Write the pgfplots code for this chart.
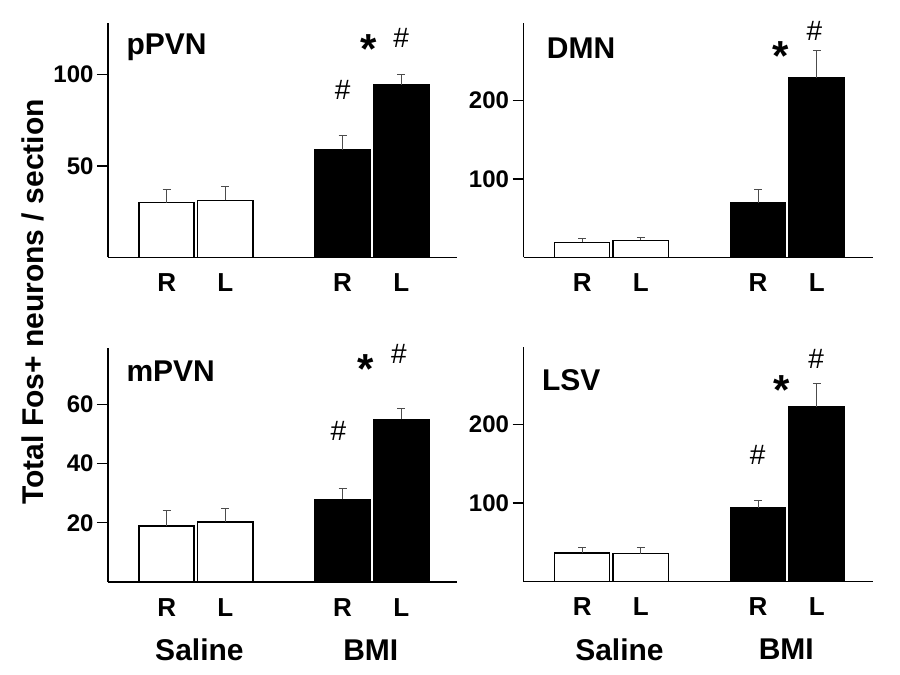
\documentclass[border=0pt]{standalone}
\usepackage{fontspec}
\setmainfont{Liberation Sans}
\usepackage{pgfplots}
\pgfplotsset{compat=1.18}

\pgfplotsset{
  panel/.style={
    scale only axis, width=349pt, height=234pt,
    anchor=south west,
    xmin=0, xmax=5.95, ymin=0,
    axis x line=bottom, axis y line=left,
    axis line style={-, line width=1.6pt},
    every outer x axis line/.append style={-},
    every outer y axis line/.append style={-},
    xtick={1,2,4,5}, xticklabels={R,L,R,L},
    x tick style={draw=none},
    y tick style={line width=1.3pt, black},
    tick align=outside, major tick length=11pt,
    yticklabel style={font=\fontsize{24}{24}\selectfont\bfseries},
    xticklabel style={font=\fontsize{26}{26}\selectfont\bfseries, yshift=-2pt},
    /pgf/number format/assume math mode=true,
    clip=false,
  },
  saline/.style={ybar, bar width=0.94, bar shift=0pt, fill=white, draw=black, line width=1.5pt,
    error bars/.cd, y dir=plus, y explicit,
    error bar style={line width=1pt, black!70},
    error mark options={rotate=90, mark size=4pt, line width=1pt, black!70}},
  bmi/.style={ybar, bar width=0.94, bar shift=0pt, fill=black, draw=black, line width=1.5pt,
    error bars/.cd, y dir=plus, y explicit,
    error bar style={line width=1pt, black!70},
    error mark options={rotate=90, mark size=4pt, line width=1pt, black!70}},
}
\newcommand{\lab}{\fontsize{30}{30}\selectfont\bfseries}
\newcommand{\hashf}{\fontsize{28}{28}\selectfont}
\newcommand{\starf}{\fontsize{42}{42}\selectfont\bfseries}
\newcommand{\grp}{\fontsize{30}{30}\selectfont\bfseries}

\begin{document}
\begin{tikzpicture}
\useasboundingbox (0,0) rectangle (900pt,675pt);

% pPVN
\begin{axis}[panel, at={(108pt,417.5pt)}, ymax=128, ytick={50,100}]
\addplot[saline] coordinates {(1,30) +- (0,7) (2,31.3) +- (0,7.7)};
\addplot[bmi] coordinates {(4,58.9) +- (0,7.7) (5,94.5) +- (0,5.5)};
\node[font=\lab, anchor=west] at (rel axis cs:0.043,0.897) {pPVN};
\node[font=\hashf] at (axis cs:4,91.9) {\#};
\node[font=\starf, anchor=north] at (axis cs:4.44,124) {*};
\node[font=\hashf] at (axis cs:5,120.3) {\#};
\end{axis}

% DMN
\begin{axis}[panel, at={(523.5pt,417.5pt)}, ymax=298, ytick={100,200}]
\addplot[saline] coordinates {(1,19.2) +- (0,5.4) (2,21.7) +- (0,3.8)};
\addplot[bmi] coordinates {(4,69.5) +- (0,17.4) (5,228.3) +- (0,35)};
\node[font=\lab, anchor=west] at (rel axis cs:0.057,0.895) {DMN};
\node[font=\starf, anchor=north] at (axis cs:4.39,279) {*};
\node[font=\hashf] at (axis cs:4.96,289) {\#};
\end{axis}

% mPVN
\begin{axis}[panel, at={(108pt,93pt)}, ymax=79, ytick={20,40,60}]
\addplot[saline] coordinates {(1,18.9) +- (0,5.3) (2,20.3) +- (0,4.5)};
\addplot[bmi] coordinates {(4,27.9) +- (0,3.5) (5,54.9) +- (0,3.6)};
\node[font=\lab, anchor=west] at (rel axis cs:0.043,0.90) {mPVN};
\node[font=\hashf] at (axis cs:3.93,51.1) {\#};
\node[font=\starf, anchor=north] at (axis cs:4.39,77.8) {*};
\node[font=\hashf] at (axis cs:4.96,76.9) {\#};
\node[font=\grp] at (rel axis cs:0.262,-0.29) {Saline};
\node[font=\grp] at (rel axis cs:0.753,-0.29) {BMI};
\end{axis}

% LSV
\begin{axis}[panel, at={(523.5pt,93.5pt)}, ymax=298, ytick={100,200}]
\addplot[saline] coordinates {(1,36.3) +- (0,7.3) (2,35.4) +- (0,8.2)};
\addplot[bmi] coordinates {(4,94) +- (0,9.4) (5,222.2) +- (0,29.5)};
\node[font=\lab, anchor=west] at (rel axis cs:0.043,0.86) {LSV};
\node[font=\hashf] at (axis cs:3.99,160.6) {\#};
\node[font=\starf, anchor=north] at (axis cs:4.4,267) {*};
\node[font=\hashf] at (axis cs:4.99,283.8) {\#};
\node[font=\grp] at (rel axis cs:0.275,-0.29) {Saline};
\node[font=\grp] at (rel axis cs:0.753,-0.29) {BMI};
\end{axis}

\node[rotate=90, font=\fontsize{30}{30}\selectfont\bfseries] at (33pt,373pt) {Total Fos+ neurons / section};
\end{tikzpicture}
\end{document}
